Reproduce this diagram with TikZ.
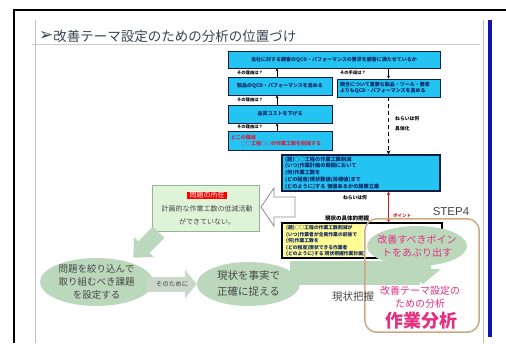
\documentclass[tikz,border=0pt]{standalone}
\usepackage{fontspec}
\setmainfont{Noto Sans CJK JP}
\newfontfamily\symfont{DejaVu Sans}
\newfontfamily\latfont{Liberation Sans}
\usetikzlibrary{arrows.meta,shapes.geometric}

\definecolor{boxcyan}{RGB}{36,196,242}
\definecolor{boxline}{RGB}{10,30,70}
\definecolor{boxtext}{RGB}{15,35,100}
\definecolor{sage}{RGB}{188,216,188}
\definecolor{arrowsage}{RGB}{202,216,202}
\definecolor{gboxfill}{RGB}{222,243,216}
\definecolor{gboxline}{RGB}{150,180,150}
\definecolor{pinkmag}{RGB}{226,48,130}
\definecolor{tanline}{RGB}{205,168,128}
\definecolor{yfill}{RGB}{255,252,150}
\definecolor{darktext}{RGB}{70,70,70}
\definecolor{titlecol}{RGB}{55,68,82}
\definecolor{barblue}{RGB}{18,18,180}
\definecolor{redarr}{RGB}{200,30,30}
\definecolor{redtext}{RGB}{220,30,60}

\begin{document}
\begin{tikzpicture}[x=1pt,y=-1pt,
  bbox/.style={draw=boxline, line width=0.7pt, fill=boxcyan, text=boxtext, inner sep=0pt,
    font=\fontsize{5}{6.5}\selectfont\bfseries, align=center},
  sarrow/.style={-{Stealth[length=3pt,width=2.8pt]}, line width=0.9pt, black},
  dasharrow/.style={-{Stealth[length=4pt,width=4pt]}, line width=1.8pt, black, dash pattern=on 4pt off 3pt},
  redarrow/.style={{Stealth[length=3.5pt,width=3.5pt]}-{Stealth[length=3.5pt,width=3.5pt]}, line width=1.3pt, redarr},
  tinylbl/.style={font=\fontsize{4.3}{5}\selectfont\bfseries, inner sep=0pt, text=black},
  magtext/.style={font=\fontsize{10}{13}\selectfont, text=pinkmag, align=center, inner sep=0pt},
  ellnode/.style={ellipse, fill=sage, inner sep=0pt},
]
\useasboundingbox (0,0) rectangle (506,343);
\fill[white] (0,0) rectangle (506,343);

% frame and slide margins
\draw[line width=1.5pt, black] (14,343) -- (14,10) -- (506,10);
\draw[black!25, line width=0.8pt] (35,20) -- (35,343);
\draw[black!25, line width=0.8pt] (483,20) -- (483,343);
\fill[barblue] (488,20) rectangle (492,337);
\draw[black!20, line width=0.8pt] (32,44) -- (480,44);

% title
\node[anchor=west, inner sep=0pt, text=titlecol, font=\fontsize{13.5}{14}\selectfont] (title) at (39,36)
  {\raisebox{0.5pt}{\symfont\fontsize{17}{17}\selectfont ➢}改善テーマ設定のための分析の位置づけ};

% blue boxes
\node[bbox, minimum width=212pt, minimum height=17pt] (top) at (334,59.5)
  {当社に対する顧客のQCD・パフォーマンスの要求を顧客に満たせているか};
\node[bbox, minimum width=104pt, minimum height=18pt] (a2) at (280,86)
  {製品のQCD・パフォーマンスを高める};
\node[bbox, minimum width=103pt, minimum height=18pt, align=left, text width=97pt] (r) at (388.5,88)
  {競合について重要な製品・ツール・要素\\よりもQCD・パフォーマンスを高める};
\node[bbox, minimum width=104pt, minimum height=18pt] (a3) at (280,114)
  {品質コストを下げる};
\node[bbox, minimum width=104pt, minimum height=19pt, text=redtext, align=left, text width=98pt] (a4) at (280,140.5)
  {どこの職場\\\hspace*{10pt}○○工程○○の作業工数を削減する};
\node[bbox, line width=1.3pt, minimum width=158pt, minimum height=36pt, align=left, text width=152pt,
  font=\fontsize{5.2}{6.8}\selectfont\bfseries] (big) at (361,173)
  {(題)○○工程の作業工数削減\\(いつ)作業計画の期間において\\(何)作業工数を\\(どの程度)現状数値(目標値)まで\\(どのように)する 価値あるかの施策立案};

% connectors in the upper chart
\draw[sarrow] ([xshift=-3pt]a2.north) -- ([xshift=-3pt]a2.north |- top.south);
\draw[sarrow] ([xshift=-3pt]a3.north) -- ([xshift=-3pt]a3.north |- a2.south);
\draw[sarrow] ([xshift=-3pt]a4.north) -- ([xshift=-3pt]a4.north |- a3.south);
\draw[sarrow] (r.north |- top.south) -- (r.north);
\draw[dasharrow] (r.south) -- (r.south |- big.north);

\node[tinylbl] (q1) at (250,72.5) {その理由は？};
\node[tinylbl] (q2) at (250,100) {その理由は？};
\node[tinylbl] (q3) at (250,127) {その理由は？};
\node[tinylbl] (q4) at (353,72.5) {その手段は？};
\node[tinylbl, anchor=west, font=\fontsize{4.8}{5}\selectfont\bfseries] (n1) at (395,119) {ねらいは何};
\node[tinylbl, anchor=west, font=\fontsize{4.8}{5}\selectfont\bfseries] (n2) at (395,129) {具体化};

% green problem box and hollow arrow
\node[draw=gboxline, fill=gboxfill, line width=0.8pt, minimum width=107pt, minimum height=46pt, inner sep=0pt] (gbox) at (205.5,208) {};
\node[fill=red, text=white, font=\fontsize{7}{7}\selectfont, inner xsep=2.5pt, inner ysep=0.3pt,
  text height=5.2pt, text depth=1pt] (glabel) at (207,195.5) {問題の所在};
\node[font=\fontsize{7}{13}\selectfont, align=center, inner sep=0pt, text=darktext] (gtext) at (207,215)
  {計画的な作業工数の低減活動\\ができていない。};
\draw[black!45, fill=white, line width=0.8pt] (261,207) -- (274,188) -- (274,197) -- (295,197)
  -- (295,217) -- (274,217) -- (274,226) -- cycle;

% step 4 rounded frame (fill first)
\node[fill=white, minimum width=114pt, minimum height=113pt, inner sep=0pt, rounded corners=12pt] (rr) at (422,275.5) {};

% green band from right ellipse into frame
\fill[sage] (290,261) rectangle (420,285);

% yellow box
\node[draw=black, line width=1.2pt, fill=white, minimum width=160pt, minimum height=35pt, inner sep=0pt,
  path picture={\fill[yfill] (path picture bounding box.north west) rectangle ([xshift=81pt]path picture bounding box.south west);}]
  (yel) at (362,240.5) {};
\node[anchor=north west, align=left, inner sep=0pt, font=\fontsize{4.8}{6.4}\selectfont\bfseries, text=boxtext] (yeltxt) at (286,225.5)
  {(題)○○工程の作業工数削減が\\(いつ)作業者が全員作業の前後で\\(何)作業工数を\\(どの程度)現状できる作業者\\(どのように)する 現状把握作業計画)};

% red double arrow and labels
\draw[redarrow] (r.south |- big.south) -- (r.south |- yel.north);
\node[tinylbl, font=\fontsize{4.8}{5}\selectfont\bfseries] (n3) at (355,198) {ねらいは何};
\node[tinylbl, font=\fontsize{5.5}{6}\selectfont\bfseries] (n4) at (347,218.5) {現状の具体的把握};
\node[tinylbl, text=redarr, font=\fontsize{4.5}{5}\selectfont\bfseries] (n5) at (402,215.5) {ポイント};

% ellipse and down arrow in frame
\node[ellnode, minimum width=100pt, minimum height=40pt] (pt) at (417,246) {};
\fill[sage] (415,258) -- (431,258) -- (431,269) -- (441,269) -- (423,284) -- (405,269) -- (415,269) -- cycle;
\draw[tanline, line width=1.5pt, rounded corners=12pt] (rr.north west) rectangle (rr.south east);

% lower flow
\node[ellnode, minimum width=113pt, minimum height=48pt] (el1) at (96.5,282) {};
\node[ellnode, minimum width=103pt, minimum height=44pt] (el2) at (248.5,284) {};
\draw[arrowsage, line width=15pt, -{Triangle[length=12pt,width=28pt]}] ([xshift=-6pt]el1.east |- el2.west) -- (el2.west);
\begin{scope}[shift={(146,245)}, rotate=225]
  \fill[sage] (-18,-8) -- (3,-8) -- (3,-14) -- (18,0) -- (3,14) -- (3,8) -- (-18,8) -- cycle;
\end{scope}

% texts
\node[font=\fontsize{9.5}{13}\selectfont, align=center, inner sep=0pt, text=darktext] (el1t) at (el1)
  {問題を絞り込んで\\取り組むべき課題\\を設定する};
\node[font=\fontsize{10.5}{16}\selectfont, align=center, inner sep=0pt, text=darktext] (el2t) at (el2)
  {現状を事実で\\正確に捉える};
\node[font=\fontsize{6.5}{7}\selectfont, inner sep=0pt, text=darktext] (sono) at (172,284) {そのために};
\node[font=\fontsize{10.5}{11}\selectfont, inner sep=0pt, text=darktext] (genjo) at (353,297) {現状把握};
\node[font=\latfont\fontsize{11.5}{12}\selectfont, inner sep=0pt, text=darktext] (step) at (451,212) {STEP4};
\node[magtext] (ptt) at (pt) {改善すべきポイン\\トをあぶり出す};
\node[magtext] (ana) at (420,297.5) {改善テーマ設定の\\ための分析};
\node[font=\fontsize{18}{18}\selectfont\bfseries, text=pinkmag, inner sep=0pt] (sagyo) at (421,321) {作業分析};
\end{tikzpicture}
\end{document}
